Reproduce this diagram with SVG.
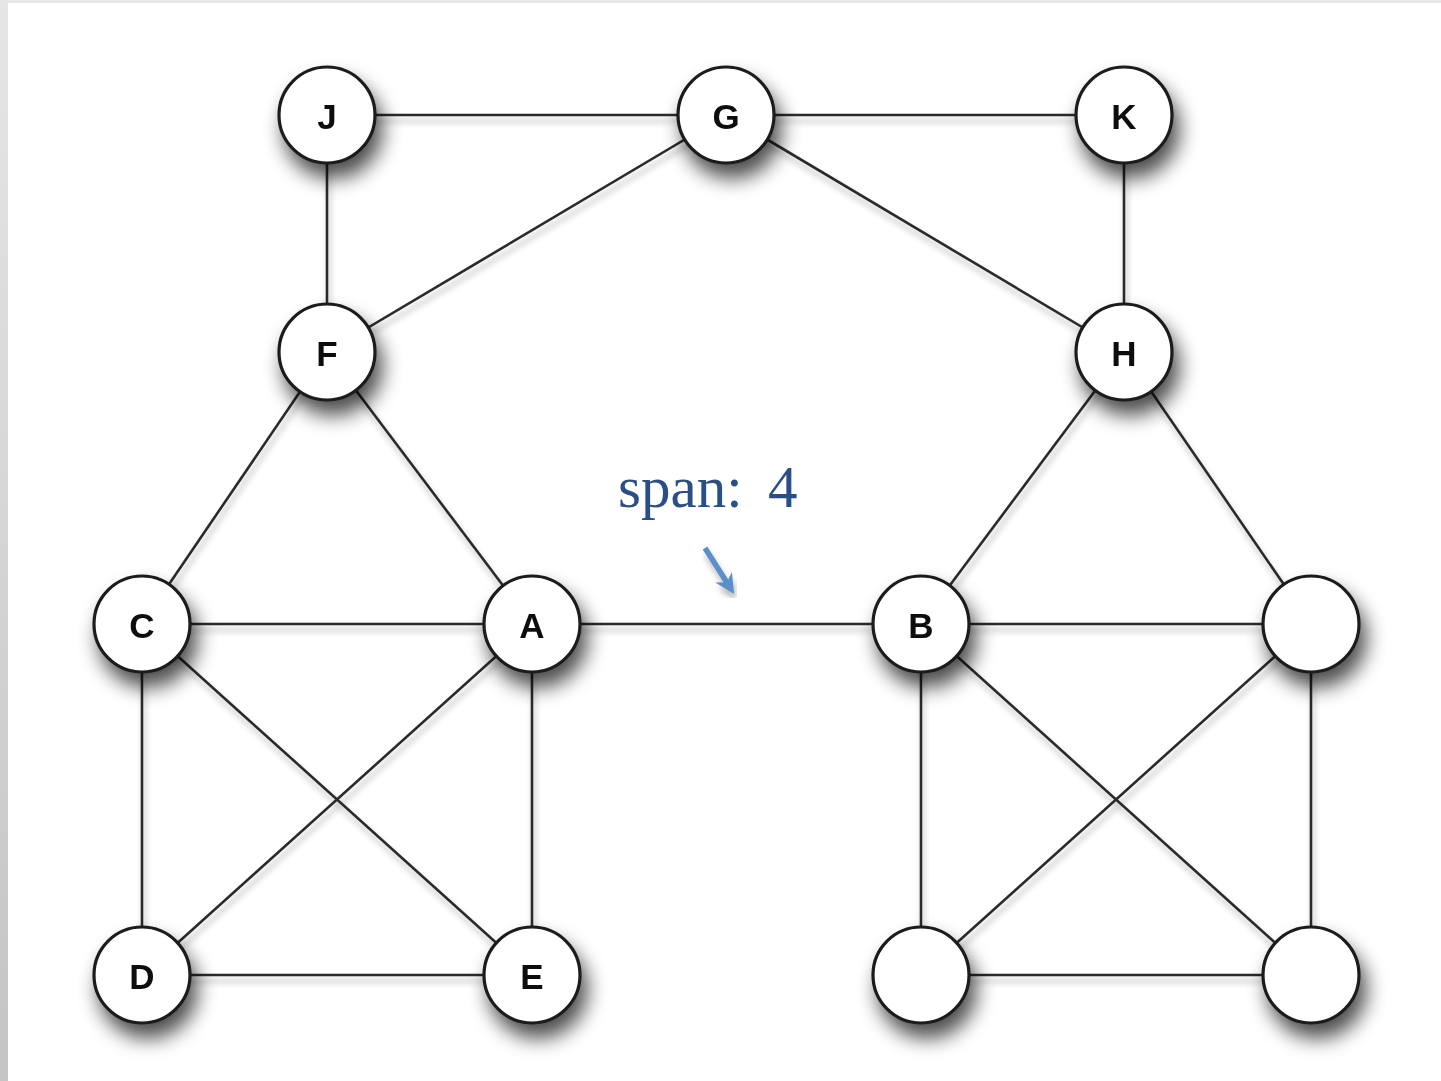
<svg xmlns="http://www.w3.org/2000/svg" width="1441" height="1081" viewBox="0 0 1441 1081">
<defs>
<filter id="sh" x="-50%" y="-50%" width="200%" height="200%">
<feGaussianBlur in="SourceAlpha" stdDeviation="10"/>
<feOffset dx="6" dy="14" result="b"/>
<feComponentTransfer><feFuncA type="linear" slope="0.7"/></feComponentTransfer>
<feMerge><feMergeNode/><feMergeNode in="SourceGraphic"/></feMerge>
</filter>
<filter id="lsh" x="-20%" y="-20%" width="140%" height="140%">
<feGaussianBlur in="SourceAlpha" stdDeviation="3"/>
<feOffset dx="2" dy="6"/>
<feComponentTransfer><feFuncA type="linear" slope="0.3"/></feComponentTransfer>
<feMerge><feMergeNode/><feMergeNode in="SourceGraphic"/></feMerge>
</filter>
<marker id="ah" viewBox="0 0 10 10" refX="7" refY="5" markerWidth="3.6" markerHeight="3.6" orient="auto">
<path d="M0,0 L10,5 L0,10 L3,5 z" fill="#5b8fc7"/>
</marker>
<linearGradient id="lg" x1="0" y1="0" x2="0" y2="1">
<stop offset="0" stop-color="#e6e6e6"/>
<stop offset="1" stop-color="#c4c4c4"/>
</linearGradient>
</defs>
<style>
.n circle{fill:#fff;stroke:#1a1a1a;stroke-width:3.2}
.n text{font-family:"Liberation Sans",Arial,sans-serif;font-size:35px;font-weight:bold;fill:#111;text-anchor:middle;dominant-baseline:central}
#edges line{stroke:#2b2b2b;stroke-width:2.6}
</style>
<rect x="0" y="0" width="1441" height="1081" fill="#fff"/>
<rect x="0" y="0" width="1441" height="3" fill="#e6e6e6"/>
<rect x="0" y="0" width="8" height="1081" fill="url(#lg)"/>
<g id="edges" filter="url(#lsh)">
<line x1="327" y1="115" x2="726" y2="115"/>
<line x1="726" y1="115" x2="1124" y2="115"/>
<line x1="327" y1="115" x2="327" y2="352"/>
<line x1="726" y1="115" x2="327" y2="352"/>
<line x1="726" y1="115" x2="1124" y2="352"/>
<line x1="1124" y1="115" x2="1124" y2="352"/>
<line x1="327" y1="352" x2="142" y2="624"/>
<line x1="327" y1="352" x2="532" y2="624"/>
<line x1="1124" y1="352" x2="921" y2="624"/>
<line x1="1124" y1="352" x2="1311" y2="624"/>
<line x1="142" y1="624" x2="532" y2="624"/>
<line x1="532" y1="624" x2="921" y2="624"/>
<line x1="921" y1="624" x2="1311" y2="624"/>
<line x1="142" y1="624" x2="142" y2="975"/>
<line x1="142" y1="624" x2="532" y2="975"/>
<line x1="532" y1="624" x2="142" y2="975"/>
<line x1="532" y1="624" x2="532" y2="975"/>
<line x1="142" y1="975" x2="532" y2="975"/>
<line x1="921" y1="624" x2="921" y2="975"/>
<line x1="921" y1="624" x2="1311" y2="975"/>
<line x1="1311" y1="624" x2="921" y2="975"/>
<line x1="1311" y1="624" x2="1311" y2="975"/>
<line x1="921" y1="975" x2="1311" y2="975"/>
</g>
<g id="J" class="n" filter="url(#sh)"><circle cx="327" cy="115" r="48"/><text x="327" y="116">J</text></g>
<g id="G" class="n" filter="url(#sh)"><circle cx="726" cy="115" r="48"/><text x="726" y="116">G</text></g>
<g id="K" class="n" filter="url(#sh)"><circle cx="1124" cy="115" r="48"/><text x="1124" y="116">K</text></g>
<g id="F" class="n" filter="url(#sh)"><circle cx="327" cy="352" r="48"/><text x="327" y="353">F</text></g>
<g id="H" class="n" filter="url(#sh)"><circle cx="1124" cy="352" r="48"/><text x="1124" y="353">H</text></g>
<g id="C" class="n" filter="url(#sh)"><circle cx="142" cy="624" r="48"/><text x="142" y="625">C</text></g>
<g id="A" class="n" filter="url(#sh)"><circle cx="532" cy="624" r="48"/><text x="532" y="625">A</text></g>
<g id="B" class="n" filter="url(#sh)"><circle cx="921" cy="624" r="48"/><text x="921" y="625">B</text></g>
<g id="R1" class="n" filter="url(#sh)"><circle cx="1311" cy="624" r="48"/></g>
<g id="D" class="n" filter="url(#sh)"><circle cx="142" cy="975" r="48"/><text x="142" y="976">D</text></g>
<g id="E" class="n" filter="url(#sh)"><circle cx="532" cy="975" r="48"/><text x="532" y="976">E</text></g>
<g id="R2" class="n" filter="url(#sh)"><circle cx="921" cy="975" r="48"/></g>
<g id="R3" class="n" filter="url(#sh)"><circle cx="1311" cy="975" r="48"/></g>
<g id="label">
<text x="618" y="507" font-family="'Liberation Serif','Times New Roman',serif" font-size="59" fill="#2a4f86">span: <tspan x="768">4</tspan></text>
<line x1="705" y1="548" x2="731" y2="589" stroke="#5b8fc7" stroke-width="5.5" marker-end="url(#ah)" filter="url(#lsh)"/>
</g>
</svg>
